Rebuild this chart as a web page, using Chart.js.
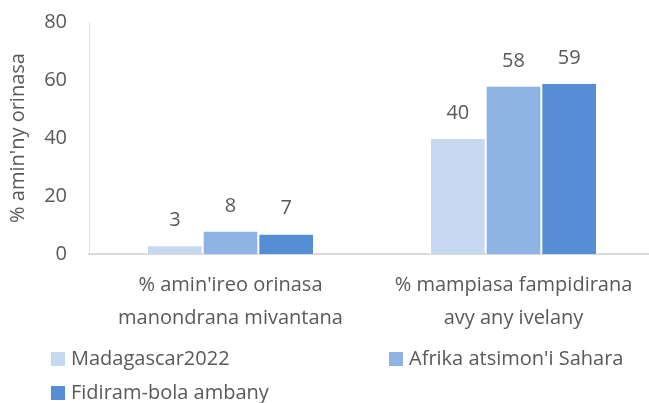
<!DOCTYPE html>
<html>
<head>
<meta charset="utf-8">
<script src="https://cdn.jsdelivr.net/npm/chart.js@4/dist/chart.umd.min.js"></script>
<style>
  body { margin: 0; background: #fff; }
  #wrap { position: relative; width: 649px; height: 403px; overflow: hidden; }
  #barChart { position: absolute; left: 0; top: -12px; }
  #legend { position: absolute; left: 0; top: 0; width: 649px;
            font-family: "Open Sans", sans-serif; font-size: 20px; color: #595959; }
  .item { position: absolute; white-space: nowrap; line-height: 26px; }
  .box { display: inline-block; width: 14px; height: 14px; margin-right: 6px; vertical-align: -1px; }
</style>
</head>
<body>
<div id="wrap">
  <canvas id="barChart" width="656" height="415"></canvas>
  <div id="legend"></div>
</div>
<script>

var categories = [
    ["% amin'ireo orinasa", "manondrana mivantana"],
    ["% mampiasa fampidirana", "avy any ivelany"]
];
var seriesNames = ["Madagascar2022", "Afrika atsimon'i Sahara", "Fidiram-bola ambany"];
var madagascar = [3, 40];
var afrika = [8, 58];
var fidiram = [7, 59];
var colors = ["#C6D9F1", "#8DB4E2", "#558ED5"];
var yTicks = [0, 20, 40, 60, 80];

var font = { family: "'Open Sans', sans-serif", size: 20 };

// Data labels above each bar ##################################################
var valueLabels = {
    id: 'valueLabels',
    afterDatasetsDraw: function (chart) {
        var ctx = chart.ctx;
        ctx.save();
        ctx.font = "20px " + font.family;
        ctx.fillStyle = "#595959";
        ctx.textAlign = "center";
        ctx.textBaseline = "middle";
        chart.data.datasets.forEach(function (ds, i) {
            chart.getDatasetMeta(i).data.forEach(function (bar, j) {
                ctx.fillText(ds.data[j], bar.x, bar.y - 25);
            });
        });
        ctx.restore();
    }
};

var data = {
    labels: categories,
    datasets: [
        { label: seriesNames[0], data: madagascar, backgroundColor: colors[0] },
        { label: seriesNames[1], data: afrika, backgroundColor: colors[1] },
        { label: seriesNames[2], data: fidiram, backgroundColor: colors[2] }
    ]
};
data.datasets.forEach(function (ds) {
    ds.borderColor = "#ffffff";
    ds.borderWidth = 1;
    ds.categoryPercentage = 0.59;
    ds.barPercentage = 1.0;
});

var barChart = new Chart(document.getElementById("barChart"), {
    type: 'bar',
    data: data,
    plugins: [valueLabels],
    options: {
        responsive: false,
        animation: false,
        layout: { padding: { top: 0, right: 1, left: 0, bottom: 0 } },
        plugins: {
            legend: { display: false },
            tooltip: { enabled: false }
        },
        scales: {
            x: {
                grid: { display: false, drawTicks: false },
                border: { color: "#D9D9D9", width: 2 },
                ticks: { color: "#595959", font: { family: font.family, size: 20, lineHeight: 1.65 }, padding: 15, maxRotation: 0 },
                afterFit: function (s) { s.height = 149; }
            },
            y: {
                min: 0,
                max: 80,
                afterBuildTicks: function (s) {
                    s.ticks = yTicks.map(function (v) { return { value: v }; });
                },
                grid: { display: false, drawTicks: false },
                border: { color: "#D6E2F0", width: 1 },
                ticks: { color: "#595959", font: font, padding: 22 },
                title: {
                    display: true,
                    text: "% amin'ny orinasa",
                    color: "#595959",
                    font: font,
                    padding: { top: 6, bottom: 0 }
                },
                afterFit: function (s) { s.width = 89; }
            }
        }
    }
});

// Legend ######################################################################
var legend = document.getElementById("legend");
var spots = [[51, 345], [389, 345], [51, 379]];
seriesNames.forEach(function (name, i) {
    var item = document.createElement("div");
    item.className = "item";
    item.style.left = spots[i][0] + "px";
    item.style.top = spots[i][1] + "px";
    item.innerHTML = '<span class="box" style="background:' + colors[i] + '"></span>' + name;
    legend.appendChild(item);
});
</script>
</body>
</html>
